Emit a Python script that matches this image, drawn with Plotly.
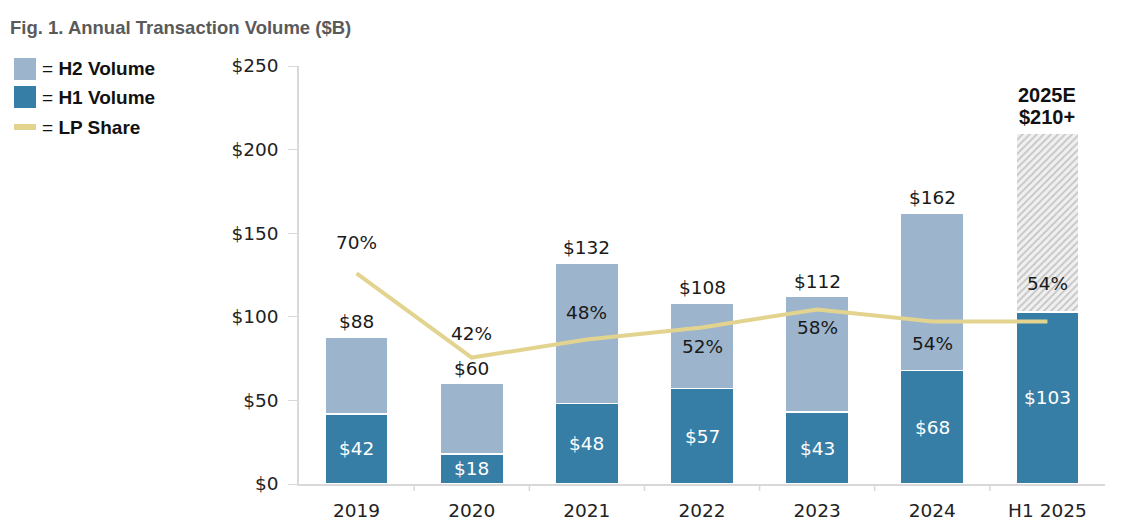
import plotly.graph_objects as go

# ---- data ----
categories = ["2019", "2020", "2021", "2022", "2023", "2024", "H1 2025"]
h1_volume = [42, 18, 48, 57, 43, 68, 103]
total_volume = [88, 60, 132, 108, 112, 162, None]
estimate_2025 = 210
estimate_label = ["2025E", "$210+"]
lp_share = [70, 42, 48, 52, 58, 54, 54]
y_ticks = [0, 50, 100, 150, 200, 250]

pos = list(range(len(categories)))
h2_volume = [t - h for t, h in zip(total_volume[:-1], h1_volume[:-1])]

# ---- style ----
C_H1 = "#377ea6"
C_H2 = "#9cb4cc"
C_LINE = "#e2d48f"
FONT = "DejaVu Sans"
FONT_B = "Liberation Sans"
FS = 18.5
share_label_shift = [31, 24, 27, -19, -18, -22, 38]  # +above / -below (px)
SHARE_SCALE = 1.8  # share axis range = 250/1.8

fig = go.Figure()

fig.add_trace(go.Bar(
    x=pos, y=h1_volume, marker=dict(color=C_H1, line=dict(color="white", width=1.5)),
    width=0.55, hoverinfo="skip", showlegend=False))
fig.add_trace(go.Bar(
    x=pos[:-1], y=h2_volume, marker=dict(color=C_H2, line=dict(color="white", width=1.5)),
    width=0.55, hoverinfo="skip", showlegend=False))
fig.add_trace(go.Bar(
    x=[pos[-1]], y=[estimate_2025 - h1_volume[-1]],
    marker=dict(color="#efefef", line=dict(color="white", width=1.5),
                pattern=dict(shape="/", fgcolor="#9a9a9a", bgcolor="#f0f0f0", size=5, solidity=0.35)),
    width=0.55, hoverinfo="skip", showlegend=False))
fig.add_trace(go.Scatter(
    x=pos, y=lp_share, yaxis="y2", mode="lines",
    line=dict(color=C_LINE, width=4), hoverinfo="skip", showlegend=False))

ann = []
for p, v in zip(pos, h1_volume):
    ann.append(dict(x=p, y=v / 2, text=f"${v}", showarrow=False,
                    font=dict(family=FONT, size=FS, color="white"), yanchor="middle"))
for p, t in zip(pos, total_volume):
    if t is None:
        continue
    ann.append(dict(x=p, y=t, text=f"${t}", showarrow=False, yanchor="bottom", yshift=3,
                    font=dict(family=FONT, size=FS, color="#1a1a1a")))
for i, line_txt in enumerate(reversed(estimate_label)):
    ann.append(dict(x=pos[-1], y=estimate_2025, text=f"<b>{line_txt}</b>", showarrow=False,
                    yanchor="bottom", yshift=3 + 22 * i,
                    font=dict(family=FONT_B, size=20, color="#111111")))
for p, s, sh in zip(pos, lp_share, share_label_shift):
    ann.append(dict(x=p, y=s, yref="y2", text=f"{s}%", showarrow=False, yanchor="middle", yshift=sh,
                    font=dict(family=FONT, size=FS, color="#1a1a1a")))

W, L, T, H = 806, 299, 66, 418
def px(x):
    return (x - L) / W
def py(y):
    return 1 - (y - T) / H

ann.append(dict(xref="paper", yref="paper", x=px(8), y=py(27),
                text="<b>Fig. 1. Annual Transaction Volume ($B)</b>", showarrow=False,
                xanchor="left", yanchor="middle", font=dict(family=FONT_B, size=18.5, color="#5a5a5a")))

shapes = []
legend_items = [("rect", C_H2, 69, "= <b>H2 Volume</b>"),
                ("rect", C_H1, 97, "= <b>H1 Volume</b>"),
                ("line", C_LINE, 127, "= <b>LP Share</b>")]
for kind, col, yc, txt in legend_items:
    half = 11 if kind == "rect" else 3
    shapes.append(dict(type="rect", xref="paper", yref="paper", x0=px(14), x1=px(36),
                       y0=py(yc + half), y1=py(yc - half), fillcolor=col, line=dict(width=0)))
    ann.append(dict(xref="paper", yref="paper", x=px(40), y=py(yc), text=txt, showarrow=False,
                    xanchor="left", yanchor="middle", font=dict(family=FONT_B, size=19, color="#111111")))

# tick marks between categories
for b in [p + 0.5 for p in pos[:-1]]:
    shapes.append(dict(type="line", xref="x", yref="paper", x0=b, x1=b, y0=0, y1=-7 / H,
                       line=dict(color="#d9d9d9", width=1.5)))

fig.update_layout(
    width=1121, height=524, barmode="stack",
    margin=dict(l=299, r=16, t=66, b=40, autoexpand=False),
    paper_bgcolor="white", plot_bgcolor="white",
    font=dict(family=FONT, size=FS, color="#222222"),
    annotations=ann, shapes=shapes,
    xaxis=dict(range=[-0.5, len(categories) - 0.5], tickvals=pos, ticktext=categories,
               showline=True, linecolor="#d9d9d9", linewidth=1.5, ticks="", ticklabelstandoff=9,
               showgrid=False, zeroline=False, tickfont=dict(size=FS), tickangle=0, automargin=False),
    yaxis=dict(range=[0, 250], tickvals=y_ticks, ticktext=[f"${v}" for v in y_ticks],
               showline=True, linecolor="#d9d9d9", linewidth=1.5, ticks="outside", ticklen=9,
               ticklabelstandoff=6,
               tickcolor="#d9d9d9", showgrid=False, zeroline=False, tickfont=dict(size=FS),
               automargin=False),
    yaxis2=dict(range=[0, 250 / SHARE_SCALE], overlaying="y", visible=False),
)

fig.write_html("out.html", post_script="document.body.style.margin='0';",
               config={"displayModeBar": False})
